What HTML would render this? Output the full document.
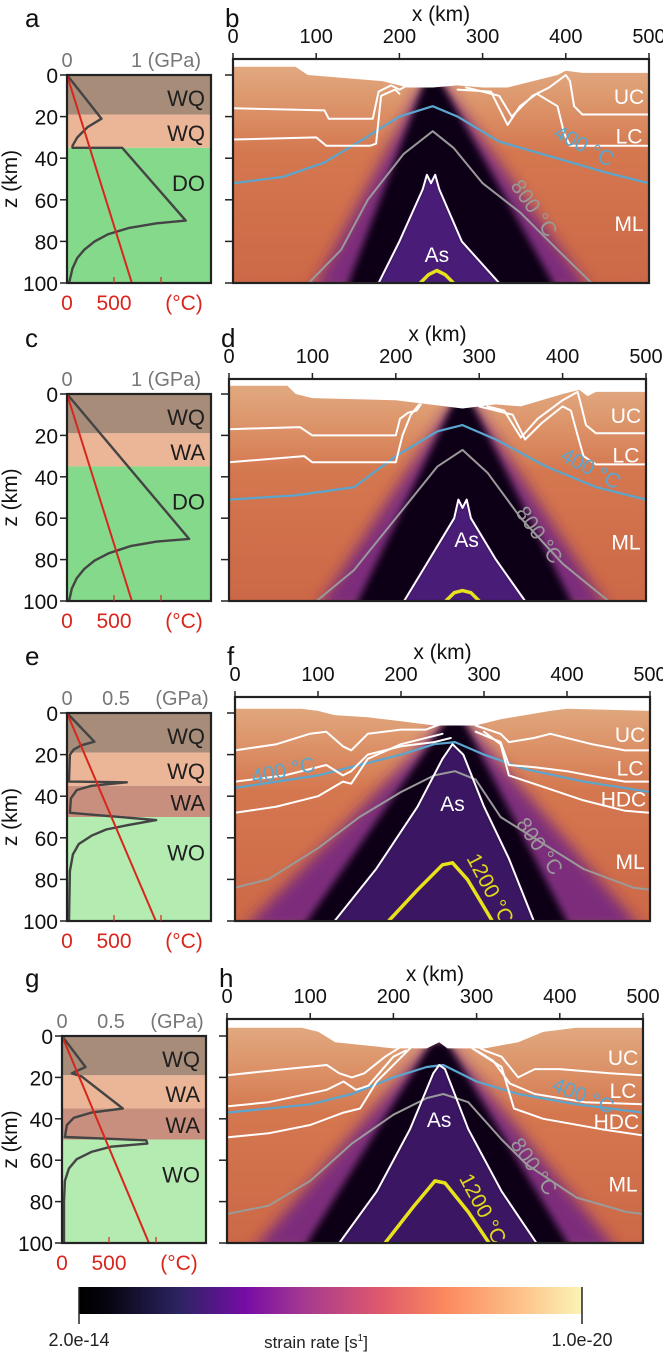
<!DOCTYPE html>
<html><head><meta charset="utf-8">
<style>
html,body{margin:0;padding:0;background:#fff;}
svg{display:block;font-family:"Liberation Sans",Arial,sans-serif;}
</style></head>
<body>
<svg id="fig" width="663" height="1352" viewBox="0 0 663 1352" xmlns="http://www.w3.org/2000/svg">
<defs>
<filter id="b6" x="-50%" y="-50%" width="200%" height="200%"><feGaussianBlur stdDeviation="7"/></filter>
<filter id="b3" x="-50%" y="-50%" width="200%" height="200%"><feGaussianBlur stdDeviation="3.5"/></filter>
<filter id="b1" x="-50%" y="-50%" width="200%" height="200%"><feGaussianBlur stdDeviation="1.5"/></filter>
<linearGradient id="field" x1="0" y1="0" x2="0" y2="1">
<stop offset="0" stop-color="#e2ad84"/><stop offset="0.22" stop-color="#dc9268"/><stop offset="0.42" stop-color="#d4774f"/><stop offset="1" stop-color="#cc6847"/>
</linearGradient>
<linearGradient id="cbar" x1="0" y1="0" x2="1" y2="0">
<stop offset="0" stop-color="#000"/><stop offset="0.05" stop-color="#05030c"/><stop offset="0.2" stop-color="#2c2462"/><stop offset="0.33" stop-color="#760ca6"/><stop offset="0.45" stop-color="#a63a90"/><stop offset="0.6" stop-color="#e0596c"/><stop offset="0.73" stop-color="#fb8a5e"/><stop offset="0.88" stop-color="#fdc38a"/><stop offset="1" stop-color="#fbf3b6"/>
</linearGradient>
</defs>
<g id="root"></g>
<g>
<rect x="79" y="1287" width="503" height="27" fill="url(#cbar)"/>
<line x1="79" y1="1287" x2="79" y2="1324" stroke="#222" stroke-width="1.5"/>
<line x1="582" y1="1287" x2="582" y2="1324" stroke="#222" stroke-width="1.5"/>
<text x="79" y="1346" font-size="18" text-anchor="middle" fill="#222">2.0e-14</text>
<text x="582" y="1346" font-size="18" text-anchor="middle" fill="#222">1.0e-20</text>
<text x="316" y="1348" font-size="17" text-anchor="middle" fill="#222">strain rate [s<tspan font-size="10" dy="-7">1</tspan><tspan dy="7">]</tspan></text>
</g>
</svg>
<script>
// ---------- data ----------
const zTicks = [0,20,40,60,80,100];
const xTicks = [0,100,200,300,400,500];
const layerNames = [["WQ","WQ","DO"],["WQ","WA","DO"],["WQ","WQ","WA","WO"],["WQ","WA","WA","WO"]];
const layerBounds = [[0,19,35,100],[0,19,35,100],[0,19,35,50,100],[0,19,35,50,100]];
const layerLabelZ = [[11,28,52],[11,28,52],[11,28,43,67],[11,28,43,67]];
const layerColors = [["#a68c79","#ebb597","#85d98b"],["#a68c79","#ebb597","#85d98b"],["#a68c79","#ebb597","#c98f7e","#b3ebb1"],["#a68c79","#ebb597","#c98f7e","#b3ebb1"]];
const gpaTickLabels = [["0","1 (GPa)"],["0","1 (GPa)"],["0","0.5","(GPa)"],["0","0.5","(GPa)"]];
const tempBottom = [690,690,945,925];
const pressA = [[0,0],[0.5,21],[0.3,25],[0.15,30],[0.08,34],[0.08,35],[0.8,35],[1.72,70],[1.3,71.3],[0.9,73.5],[0.6,76.5],[0.4,80],[0.25,84],[0.15,88],[0.08,93],[0.03,100]];
const pressC = [[0,0],[1.77,70],[1.3,71.3],[0.92,73.5],[0.6,77],[0.4,80.5],[0.25,84.5],[0.14,89],[0.07,94],[0.03,100]];
const pressE = [[0,0],[0.28,13.8],[0.15,15.5],[0.07,17.5],[0.03,20],[0.02,33],[0.61,33.3],[0.25,35],[0.1,37],[0.04,41],[0.03,48],[0.91,51.5],[0.61,54],[0.4,56],[0.25,59],[0.12,63],[0.06,68],[0.03,76],[0.02,100]];
const pressG = [[0,0],[0.24,15],[0.1,18],[0.2,19.5],[0.62,35],[0.3,37],[0.12,39.5],[0.05,43],[0.03,48.8],[0.86,50.4],[0.87,52],[0.5,53.5],[0.3,56],[0.15,59.5],[0.07,64],[0.03,70],[0.02,80],[0.02,100]];
const pressures = [pressA,pressC,pressE,pressG];

// right panels
const topoB = [[0,-4],[75,-4],[90,0],[180,3],[210,6],[240,6],[270,5],[300,6],[330,6],[390,0],[400,-2],[420,-1],[500,-1]];
const ucB = [[[0,16],[110,17],[115,21],[168,21],[175,8],[190,5],[200,7],[210,5]],[[280,6],[320,10],[335,20],[360,10],[380,6],[400,0],[405,3],[410,15],[420,19],[500,19]]];
const lcB = [[[0,31],[100,30],[112,34],[165,34],[172,33],[178,10],[195,7],[200,9]],[[270,7],[310,8],[330,24],[345,15],[365,9],[390,15],[398,28],[405,34],[500,34]]];
const t400B = [[0,52],[60,49],[110,42],[160,30],[200,20],[240,15],[270,20],[320,32],[380,39],[450,47],[500,52]];
const t800B = [[91,100],[130,84],[162,60],[205,38],[240,27],[265,35],[300,52],[345,66],[390,84],[431,100]];
const asB = [[175,100],[200,80],[228,55],[233,48],[238,52],[243,48],[248,55],[275,80],[320,100]];
const t1200B = [[225,100],[235,96],[245,94],[255,96],[265,100]];

const topoD = [[0,-4],[70,-4],[80,0],[100,2],[200,3],[240,5],[280,7],[320,5],[350,6],[400,0],[420,-2],[430,1],[440,-1],[500,-1]];
const ucD = [[[0,17],[85,16],[100,20],[200,20],[205,12],[215,9],[225,8],[230,5]],[[310,6],[330,8],[350,21],[370,12],[400,3],[418,-1],[422,5],[428,15],[440,19],[500,19]]];
const lcD = [[[0,33],[90,30],[100,33],[200,33],[208,20],[218,10],[228,5]],[[300,6],[340,10],[355,22],[375,14],[400,6],[410,8],[418,20],[425,30],[440,34],[500,34]]];
const t400D = [[0,51],[80,49],[150,45],[200,30],[250,18],[280,15],[320,22],[380,35],[440,45],[500,51]];
const t800D = [[105,100],[150,85],[200,60],[250,35],[280,27],[310,38],[350,60],[400,82],[455,100]];
const asD = [[210,100],[240,80],[270,60],[275,51],[280,55],[285,51],[290,60],[320,80],[355,100]];
const t1200D = [[260,100],[270,96],[280,95],[290,96],[300,100]];

const topoF = [[0,-2],[80,-2],[100,-1],[120,1],[160,2],[200,4],[240,6],[260,6],[290,6],[320,3],[380,-1],[400,-2],[500,-1]];
const ucF = [[[0,18],[50,15],[90,10],[110,9],[130,16],[140,18],[160,10],[200,8],[230,8],[250,5]],[[290,6],[320,10],[330,14],[360,12],[380,10],[400,12],[430,15],[470,18],[500,18]]];
const lcF = [[[0,33],[60,30],[110,25],[130,30],[140,28],[160,20],[200,16],[240,14],[260,12]],[[290,9],[320,14],[330,25],[360,26],[400,28],[440,31],[470,33],[500,33]]];
const hdcF = [[[0,48],[50,45],[100,40],[130,33],[140,34],[160,22],[200,15],[250,10]],[[300,9],[320,15],[330,30],[360,34],[420,42],[470,47],[500,48]]];
const t400F = [[0,36],[50,33],[100,30],[150,25],[200,20],[240,15],[265,14],[300,20],[350,27],[420,33],[500,38]];
const t800F = [[0,84],[40,80],[100,65],[150,50],[200,38],[240,30],[265,28],[290,32],[320,50],[360,60],[420,75],[480,84],[500,85]];
const asF = [[120,100],[170,75],[220,45],[250,22],[262,15],[275,20],[300,45],[330,70],[360,100]];
const t1200F = [[185,100],[220,85],[250,73],[262,72],[280,80],[310,100]];

const topoH = [[0,-4],[90,-4],[110,-2],[130,3],[200,6],[240,6],[255,3],[265,6],[310,6],[350,3],[380,-2],[420,-4],[500,-4]];
const ucH = [[[0,19],[70,16],[120,14],[135,18],[150,20],[165,18],[190,10],[210,5],[220,5]],[[300,5],[310,7],[330,10],[350,20],[370,16],[400,16],[460,18],[500,19]]];
const lcH = [[[0,34],[50,32],[120,26],[140,22],[155,26],[170,24],[200,10],[215,7]],[[300,7],[320,12],[340,23],[370,28],[430,32],[500,33]]];
const hdcH = [[[0,49],[50,47],[100,43],[140,37],[160,35],[180,22],[210,10],[220,6]],[[295,6],[330,15],[345,35],[380,40],[450,45],[500,48]]];
const t400H = [[0,37],[50,35],[100,33],[150,28],[200,20],[240,15],[260,14],[300,22],[350,28],[420,33],[500,37]];
const t800H = [[0,86],[50,82],[100,70],[150,52],[200,38],[240,30],[260,28],[290,32],[330,50],[360,62],[420,78],[480,85],[500,86]];
const asH = [[135,100],[180,75],[220,45],[248,18],[255,14],[262,16],[290,45],[330,75],[372,100]];
const t1200H = [[190,100],[225,82],[250,70],[262,71],[290,85],[315,100]];

const bandCenter = [240,280,265,255];
const fringeBottom = [[95,430],[105,455],[10,490],[30,470]];
const blackBottom = [[135,390],[150,415],[80,405],[90,415]];

// ---------- layout ----------
const rows = [
 {off:0,   z0:75,   z100:283,  lx0:67, lx1:211, rx0:233, rx1:649, axis:59,   gs:69, L:["a","b"]},
 {off:320, z0:394,  z100:601,  lx0:67, lx1:211, rx0:229, rx1:646, axis:379,  gs:69, L:["c","d"]},
 {off:638, z0:713,  z100:921,  lx0:67, lx1:211, rx0:235, rx1:650, axis:697,  gs:98, L:["e","f"]},
 {off:960, z0:1036, z100:1243, lx0:62, lx1:206, rx0:227, rx1:643, axis:1019, gs:98, L:["g","h"]}
];
const panels = [
 {topo:topoB, uc:ucB, lc:lcB, hdc:null, t4:t400B, t8:t800B, as:asB, t12:t1200B, asLbl:[245,88], t4L:[418,37,28], t8L:[355,66,55], t12L:null},
 {topo:topoD, uc:ucD, lc:lcD, hdc:null, t4:t400D, t8:t800D, as:asD, t12:t1200D, asLbl:[285,72], t4L:[430,39,28], t8L:[365,70,55], t12L:null},
 {topo:topoF, uc:ucF, lc:lcF, hdc:hdcF, t4:t400F, t8:t800F, as:asF, t12:t1200F, asLbl:[262,45], t4L:[60,31,-12], t8L:[360,66,55], t12L:[300,86,62]},
 {topo:topoH, uc:ucH, lc:lcH, hdc:hdcH, t4:t400H, t8:t800H, as:asH, t12:t1200H, asLbl:[255,42], t4L:[425,32,22], t8L:[362,65,55], t12L:[300,85,62]}
];

const NS="http://www.w3.org/2000/svg";
const root=document.getElementById("root");
function mk(tag,attrs,parent){const e=document.createElementNS(NS,tag);for(const k in attrs)e.setAttribute(k,attrs[k]);(parent||root).appendChild(e);return e;}
function txt(x,y,s,size,fill,anchor,parent){const t=mk("text",{x:x,y:y,"font-size":size,fill:fill,"text-anchor":anchor||"start"},parent);t.textContent=s;return t;}
function pts(arr,fx,fy){return arr.map(p=>fx(p[0]).toFixed(1)+","+fy(p[1]).toFixed(1)).join(" ");}

rows.forEach((r,i)=>{
  const g=mk("g",{});
  
  
  const Zl=z=>r.z0+z/100*(r.z100-r.z0);
  const P=v=>r.lx0+v*r.gs;
  const T=t=>r.lx0+t*0.094;
  let la=txt(25,r.off+27,r.L[0],26,"#111","start",g);
  
  
  let lb=txt(r.rx0-8,r.off+27,r.L[1],26,"#111","start",g);
  
  
  const lb2=layerBounds[i];
  for(let k=0;k<lb2.length-1;k++){
    const rc=mk("rect",{x:r.lx0,y:Zl(lb2[k]),width:r.lx1-r.lx0,height:Zl(lb2[k+1])-Zl(lb2[k]),fill:layerColors[i][k]},g);
    
    
  }
  const pl=mk("polyline",{points:pts(pressures[i],P,Zl),fill:"none",stroke:"#444",'stroke-width':2.4,'stroke-linejoin':"round"},g);
  
  
  for(let k=0;k<lb2.length-1;k++){
    const lt=txt(r.lx1-6,Zl(layerLabelZ[i][k])+8,layerNames[i][k],22,"#1e1e1e","end",g);
    
    
  }
  const tl=mk("line",{x1:T(0),y1:Zl(0),x2:T(tempBottom[i]),y2:Zl(100),stroke:"#d8261c",'stroke-width':2},g);
  
  
  const fr=mk("rect",{x:r.lx0,y:r.z0,width:r.lx1-r.lx0,height:r.z100-r.z0,fill:"none",stroke:"#222",'stroke-width':2.2},g);
  
  
  zTicks.forEach(z=>{
    mk("line",{x1:r.lx0-7,y1:Zl(z),x2:r.lx0,y2:Zl(z),stroke:"#222",'stroke-width':1.5},g);
    const t=txt(r.lx0-9,Zl(z)+8,String(z),21,"#111","end",g);
    
    
  });
  const zt=txt(0,0,"z (km)",21,"#111","middle",g);
  zt.setAttribute('transform',`translate(17,${(r.z0+r.z100)/2}) rotate(-90)`);
  
  
  const gl=gpaTickLabels[i];
  const gx = gl.length==2 ? [r.lx0, r.lx0+64] : [r.lx0, r.lx0+49, r.lx0+115];
  gl.forEach((s,k)=>{
    const t=txt(gx[k],r.z0-8,s,20,"#777",k==0?"middle":(gl.length==2?"start":"middle"),g);
    
    
  });
  [500,1000].forEach(t=>mk("line",{x1:T(t),y1:r.z100,x2:T(t),y2:r.z100-6,stroke:"#d8261c",'stroke-width':1.2},g));
  const tlab=[["0",T(0)],["500",T(500)],["(°C)",r.lx0+117]];
  tlab.forEach(a=>{
    const t=txt(a[1],r.z100+27,a[0],21,"#d8261c","middle",g);
    
    
  });
  const p=panels[i];
  const X=km=>r.rx0+km/500*(r.rx1-r.rx0);
  const Z=z=>r.z0+z/100*(r.z100-r.z0);
  const cid="clip"+i;
  const cp=mk("clipPath",{id:cid},g);
  mk("rect",{x:r.rx0,y:r.axis,width:r.rx1-r.rx0,height:r.z100-r.axis},cp);
  const hm=mk("g",{'clip-path':`url(#${cid})`},g);
  
  
  mk("rect",{x:r.rx0,y:r.axis,width:r.rx1-r.rx0,height:r.z100-r.axis,fill:"url(#field)"},hm);
  const c=bandCenter[i], fb=fringeBottom[i], bb=blackBottom[i];
  const fp=mk("polygon",{points:pts([[c-12,4],[c+12,4],[fb[1],104],[fb[0],104]],X,Z),fill:"#6e2384",opacity:0.85,filter:"url(#b6)"},hm);
  
  
  const bp=mk("polygon",{points:pts([[c-9,3],[c+9,3],[bb[1],104],[bb[0],104]],X,Z),fill:"#0b0614",filter:"url(#b3)"},hm);
  
  
  const asArea=p.as.concat([[p.as[p.as.length-1][0],104],[p.as[0][0],104]]);
  const ap=mk("polygon",{points:pts(asArea,X,Z),fill:i<2?"#4a1a78":"#3a1462",filter:"url(#b1)"},hm);
  
  
  const top=[[0,-30]].concat(p.topo).concat([[500,-30]]);
  const tp=mk("polygon",{points:pts(top,X,Z),fill:"#fff"},hm);
  
  
  function line(arr,col,w,name){
    const l=mk("polyline",{points:pts(arr,X,Z),fill:"none",stroke:col,'stroke-width':w,'stroke-linejoin':"round",'stroke-linecap':"round"},hm);
    
    
  }
  line(p.t8,"#9a9a9a",2,"isotherm-800");
  line(p.t4,"#5aa6cf",2.2,"isotherm-400");
  p.uc.forEach(s=>line(s,"#fff",2,"upper-crust-boundary"));
  p.lc.forEach(s=>line(s,"#fff",2,"lower-crust-boundary"));
  if(p.hdc) p.hdc.forEach(s=>line(s,"#fff",2,"hdc-boundary"));
  line(p.as,"#fff",2,"asthenosphere-boundary");
  line(p.t12,"#e8e21a",3.5,"isotherm-1200");
  function lab(s,km,z,col,rot,name){
    const t=txt(X(km),Z(z),s,21,col,"middle",hm);
    if(rot) t.setAttribute('transform',`rotate(${rot} ${X(km)} ${Z(z)})`);
    
    
  }
  lab("UC",476,14,"#fff",0,"uc-label");
  lab("LC",476,p.hdc?30:33,"#fff",0,"lc-label");
  if(p.hdc) lab("HDC",468,45,"#fff",0,"hdc-label");
  lab("ML",476,75,"#fff",0,"ml-label");
  lab("As",p.asLbl[0],p.asLbl[1]+2,"#fff",0,"as-label");
  lab("400 °C",p.t4L[0],p.t4L[1],"#5aa6cf",p.t4L[2],"isotherm-400-label");
  lab("800 °C",p.t8L[0],p.t8L[1],"#9a9a9a",p.t8L[2],"isotherm-800-label");
  if(p.t12L) lab("1200 °C",p.t12L[0],p.t12L[1],"#e0d81a",p.t12L[2],"isotherm-1200-label");
  const rf=mk("rect",{x:r.rx0,y:r.axis,width:r.rx1-r.rx0,height:r.z100-r.axis,fill:"none",stroke:"#222",'stroke-width':2.2},g);
  
  
  zTicks.forEach(z=>mk("line",{x1:r.rx0-8,y1:Z(z),x2:r.rx0-1,y2:Z(z),stroke:"#222",'stroke-width':1.5},g));
  xTicks.forEach(x=>{
    mk("line",{x1:X(x),y1:r.axis,x2:X(x),y2:r.axis-6,stroke:"#222",'stroke-width':1.5},g);
    const t=txt(X(x),r.off+43,String(x),20,"#111","middle",g);
    
    
  });
  const xt=txt((r.rx0+r.rx1)/2,r.off+21,"x (km)",21,"#111","middle",g);
  
  
});
</script>
</body></html>
